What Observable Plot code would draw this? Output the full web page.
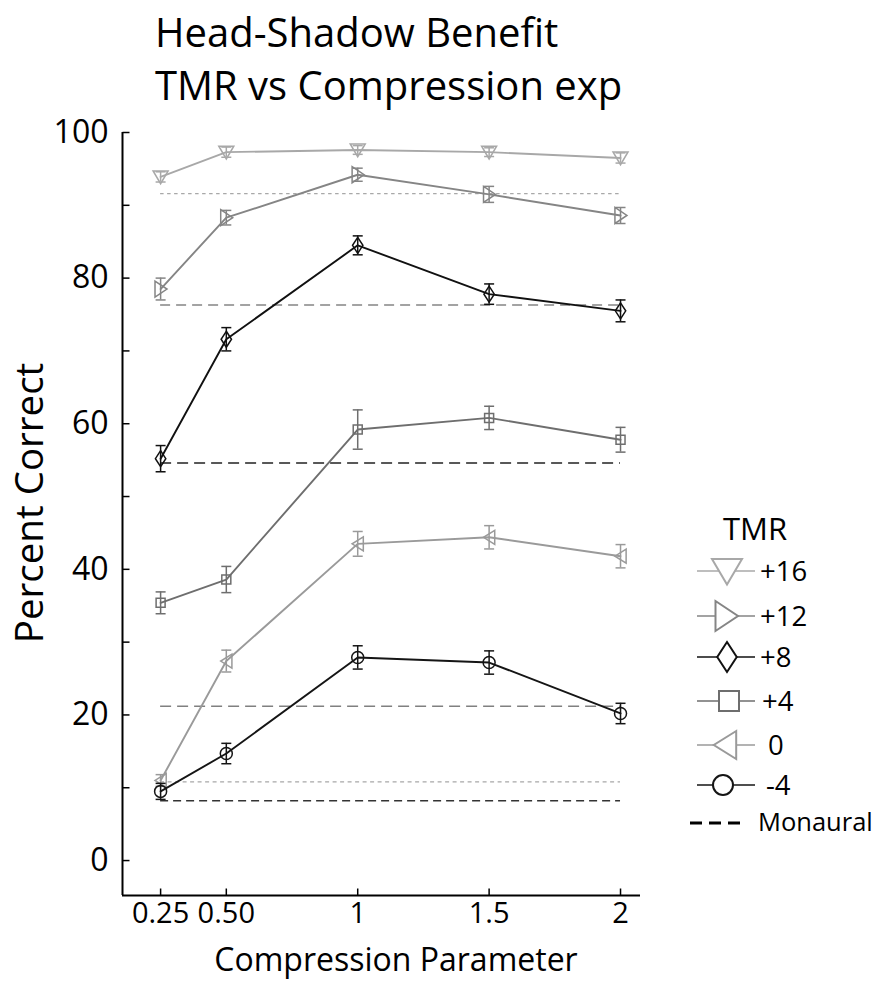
<!DOCTYPE html>
<html><head><meta charset="utf-8">
<script src="https://cdn.jsdelivr.net/npm/d3@7"></script>
<script src="https://cdn.jsdelivr.net/npm/@observablehq/plot@0.6"></script>
<style>
body{margin:0;background:#fff;}
#wrap{position:relative;width:879px;height:983px;font-family:"Open Sans",sans-serif;}
#wrap svg{position:absolute;left:0;top:0;}
</style></head><body><div id="wrap"></div>
<script>
// ---- data ----
const compression = [0.25, 0.5, 1, 1.5, 2];
const xTickLabels = ["0.25", "0.50", "1", "1.5", "2"];
const tmrLabels = ["+16", "+12", "+8", "+4", "0", "-4"];
const pctP16 = [93.9, 97.3, 97.6, 97.3, 96.5];
const pctP12 = [78.5, 88.3, 94.2, 91.5, 88.6];
const pctP8  = [55.2, 71.6, 84.5, 77.8, 75.5];
const pctP4  = [35.4, 38.6, 59.2, 60.8, 57.8];
const pct0   = [11.0, 27.4, 43.5, 44.4, 41.8];
const pctM4  = [9.5, 14.7, 27.9, 27.2, 20.2];
const errP16 = [0.7, 0.7, 0.6, 0.6, 0.7];
const errP12 = [1.5, 1.0, 0.9, 1.1, 1.1];
const errP8  = [1.8, 1.6, 1.3, 1.4, 1.5];
const errP4  = [1.5, 1.8, 2.7, 1.6, 1.7];
const err0   = [0.8, 1.5, 1.7, 1.6, 1.6];
const errM4  = [1.1, 1.4, 1.6, 1.6, 1.4];
const monaural = [91.6, 76.3, 54.6, 21.2, 10.8, 8.2];
const yTicks = [0, 10, 20, 30, 40, 50, 60, 70, 80, 90, 100];
const yTickLabels = [0, 20, 40, 60, 80, 100];
const legendTitle = "TMR";
const monauralLabel = "Monaural";
const titleLines = ["Head-Shadow Benefit", "TMR vs Compression exp"];
const xLabel = "Compression Parameter";
const yLabel = "Percent Correct";

// ---- symbols ----
const sym = (f) => ({draw(ctx, size) { f(ctx, Math.sqrt(size / Math.PI)); }});
const triDown = sym((c, r) => { c.moveTo(-r, -0.8 * r); c.lineTo(r, -0.8 * r); c.lineTo(0, 0.9 * r); c.closePath(); });
const triRight = sym((c, r) => { c.moveTo(-0.7 * r, -r); c.lineTo(0.8 * r, 0); c.lineTo(-0.7 * r, r); c.closePath(); });
const triLeft = sym((c, r) => { c.moveTo(0.8 * r, -r); c.lineTo(-0.8 * r, 0); c.lineTo(0.8 * r, r); c.closePath(); });
const diamond = sym((c, r) => { c.moveTo(0, -r); c.lineTo(0.65 * r, 0); c.lineTo(0, r); c.lineTo(-0.65 * r, 0); c.closePath(); });
const square = sym((c, r) => { c.rect(-r, -r, 2 * r, 2 * r); });
const circle = sym((c, r) => { c.moveTo(r, 0); c.arc(0, 0, r, 0, 2 * Math.PI); });
const hCap = sym((c, r) => { c.moveTo(-r, 0); c.lineTo(r, 0); });
const tickRight = sym((c, r) => { c.moveTo(0, 0); c.lineTo(r, 0); });
const tickUp = sym((c, r) => { c.moveTo(0, 0); c.lineTo(0, -r); });

const series = [
  {label: tmrLabels[0], values: pctP16, errs: errP16, color: "#a8a8a8", symbol: triDown, r: 7.5, lr: 15,
   mono: monaural[0], monoColor: "#a8a8a8", monoDash: "3.5,3.5", monoWidth: 1.2},
  {label: tmrLabels[1], values: pctP12, errs: errP12, color: "#858585", symbol: triRight, r: 8, lr: 15,
   mono: monaural[1], monoColor: "#858585", monoDash: "10,6", monoWidth: 1.5},
  {label: tmrLabels[2], values: pctP8, errs: errP8, color: "#111111", symbol: diamond, r: 8, lr: 15,
   mono: monaural[2], monoColor: "#222222", monoDash: "11,6", monoWidth: 1.5},
  {label: tmrLabels[3], values: pctP4, errs: errP4, color: "#6e6e6e", symbol: square, r: 4.5, lr: 10,
   mono: monaural[3], monoColor: "#808080", monoDash: "11,6", monoWidth: 1.5},
  {label: tmrLabels[4], values: pct0, errs: err0, color: "#9a9a9a", symbol: triLeft, r: 7, lr: 14,
   mono: monaural[4], monoColor: "#a8a8a8", monoDash: "4,3.5", monoWidth: 1.2},
  {label: tmrLabels[5], values: pctM4, errs: errM4, color: "#151515", symbol: circle, r: 6, lr: 10,
   mono: monaural[5], monoColor: "#333333", monoDash: "8,5", monoWidth: 1.5}
];

const xDomain = [0.105, 2.076];
const yDomain = [-4.8, 100];

const marks = [];
// monaural reference lines
for (const s of series) {
  marks.push(Plot.ruleY([s.mono], {x1: compression[0], x2: compression[compression.length - 1],
    stroke: s.monoColor, strokeDasharray: s.monoDash, strokeWidth: s.monoWidth}));
}
for (const s of series) {
  const rows = compression.map((x, i) => ({tmr: s.label, x, y: s.values[i], e: s.errs[i]}));
  marks.push(Plot.line(rows, {x: "x", y: "y", stroke: s.color, strokeWidth: 1.9}));
  marks.push(Plot.ruleX(rows, {x: "x", y1: d => d.y - d.e, y2: d => d.y + d.e, stroke: s.color, strokeWidth: 1.5}));
  marks.push(Plot.dot(rows, {x: "x", y: d => d.y + d.e, symbol: hCap, r: 5, stroke: s.color, strokeWidth: 1.5}));
  marks.push(Plot.dot(rows, {x: "x", y: d => d.y - d.e, symbol: hCap, r: 5, stroke: s.color, strokeWidth: 1.5}));
  marks.push(Plot.dot(rows, {x: "x", y: "y", symbol: s.symbol, r: s.r, stroke: s.color, fill: "none", strokeWidth: 1.5}));
}
// axes
marks.push(Plot.ruleX([xDomain[0]], {stroke: "black", strokeWidth: 2}));
marks.push(Plot.ruleY([yDomain[0]], {stroke: "black", strokeWidth: 2}));
marks.push(Plot.dot(yTicks, {x: xDomain[0], y: d => d, symbol: tickRight, r: 7, stroke: "black", strokeWidth: 1.5}));
marks.push(Plot.dot(compression, {x: d => d, y: yDomain[0], symbol: tickUp, r: 7, stroke: "black", strokeWidth: 1.5}));
marks.push(Plot.axisY({ticks: yTickLabels, tickSize: 0, tickPadding: 14, fontSize: 32, label: null}));
marks.push(Plot.axisX({ticks: compression, tickSize: 0, tickPadding: 7, fontSize: 29, label: null,
  tickFormat: d => xTickLabels[compression.indexOf(d)]}));

const chart = Plot.plot({
  width: 879, height: 983,
  marginTop: 132, marginBottom: 88, marginLeft: 122, marginRight: 239,
  x: {type: "linear", domain: xDomain},
  y: {type: "linear", domain: yDomain},
  style: {fontFamily: '"Open Sans", sans-serif', background: "white", color: "black"},
  marks
});
const wrap = document.getElementById("wrap");
wrap.appendChild(chart);

// ---- overlay: titles and legend ----
const ov = d3.select(wrap).append("svg")
  .attr("width", 879).attr("height", 983)
  .style("pointer-events", "none")
  .attr("font-family", '"Open Sans", sans-serif');
ov.selectAll("text.title").data(titleLines).join("text")
  .attr("x", 155).attr("y", (d, i) => 47 + i * 53)
  .attr("font-size", 40).attr("fill", "black").text(d => d);
ov.append("text").attr("transform", "translate(43,503) rotate(-90)")
  .attr("text-anchor", "middle").attr("font-size", 38.5).text(yLabel);
ov.append("text").attr("x", 396).attr("y", 971)
  .attr("text-anchor", "middle").attr("font-size", 32).text(xLabel);

// legend
ov.append("text").attr("x", 723).attr("y", 540).attr("font-size", 31).text(legendTitle);
const legY = [571, 616, 657, 701, 745, 785];
const legTextX = [760, 760, 760, 762, 768, 766];
const legMarkX = [727, 726, 727, 729, 725, 723];
series.forEach((s, i) => {
  const g = ov.append("g");
  g.append("line").attr("x1", 697).attr("x2", 755).attr("y1", legY[i]).attr("y2", legY[i])
    .attr("stroke", s.color).attr("stroke-width", 1.5);
  g.append("path").attr("d", d3.symbol(s.symbol, Math.PI * s.lr * s.lr)())
    .attr("transform", `translate(${legMarkX[i]},${legY[i]})`)
    .attr("fill", "white").attr("stroke", s.color).attr("stroke-width", 2);
  g.append("text").attr("x", legTextX[i]).attr("y", legY[i] + 10).attr("font-size", 27.5).text(s.label);
});
ov.append("line").attr("x1", 690).attr("x2", 743).attr("y1", 823).attr("y2", 823)
  .attr("stroke", "black").attr("stroke-width", 3).attr("stroke-dasharray", "12,7");
ov.append("text").attr("x", 758).attr("y", 831).attr("font-size", 25.5).text(monauralLabel);
</script></body></html>
